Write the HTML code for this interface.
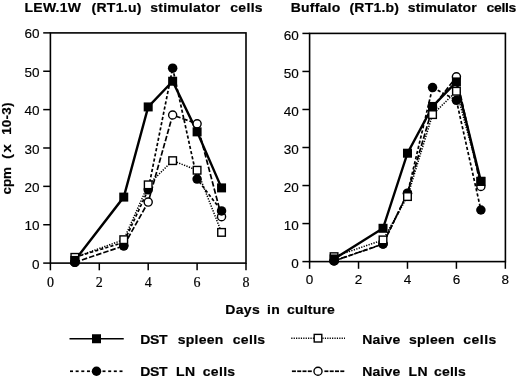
<!DOCTYPE html>
<html><head><meta charset="utf-8"><title>Chart</title>
<style>
html,body{margin:0;padding:0;background:#fff;}
body{width:520px;height:378px;overflow:hidden;}
svg{display:block;will-change:transform;}
text{fill:#000;}
.b{font-family:"Liberation Sans",sans-serif;font-weight:bold;font-size:14px;stroke:#000;stroke-width:0.2px;}
.yl{font-family:"Liberation Sans",sans-serif;font-size:13.5px;stroke:#000;stroke-width:0.15px;}
.xs{font-family:"Liberation Serif",serif;font-size:14px;stroke:#000;stroke-width:0.2px;}
</style></head>
<body>
<svg width="520" height="378" viewBox="0 0 520 378">
<rect width="520" height="378" fill="#fff"/>
<text transform="translate(24.50,11.90) scale(1.0,0.965)" class="b" style="letter-spacing:0.250px">LEW.1W</text>
<text transform="translate(91.50,11.90) scale(1.0,0.965)" class="b" style="letter-spacing:0.292px">(RT1.u)</text>
<text transform="translate(150.25,11.90) scale(1.0,0.965)" class="b" style="letter-spacing:0.250px">stimulator</text>
<text transform="translate(230.25,11.90) scale(1.0,0.965)" class="b" style="letter-spacing:0.312px">cells</text>
<text transform="translate(290.75,11.80) scale(1.0,0.965)" class="b" style="letter-spacing:0.208px">Buffalo</text>
<text transform="translate(349.50,11.80) scale(1.0,0.965)" class="b" style="letter-spacing:0.208px">(RT1.b)</text>
<text transform="translate(407.75,11.80) scale(1.0,0.965)" class="b" style="letter-spacing:0.139px">stimulator</text>
<text transform="translate(486.50,11.80) scale(1.0,0.965)" class="b" style="letter-spacing:-0.312px">cells</text>
<text transform="translate(225.25,314.25) scale(1.0,0.965)" class="b" style="letter-spacing:0.333px">Days</text>
<text transform="translate(267.00,314.25) scale(1.0,0.965)" class="b" style="letter-spacing:0.250px">in</text>
<text transform="translate(287.00,314.25) scale(1.0,0.965)" class="b" style="letter-spacing:0.208px">culture</text>
<text transform="translate(140.25,344.25) scale(1.0,0.965)" class="b" style="letter-spacing:-0.375px">DST</text>
<text transform="translate(177.75,344.25) scale(1.0,0.965)" class="b" style="letter-spacing:0.250px">spleen</text>
<text transform="translate(232.75,344.25) scale(1.0,0.965)" class="b" style="letter-spacing:0.312px">cells</text>
<text transform="translate(140.25,376.25) scale(1.0,0.965)" class="b" style="letter-spacing:-0.375px">DST</text>
<text transform="translate(176.00,376.25) scale(1.0,0.965)" class="b" style="letter-spacing:0.400px">LN</text>
<text transform="translate(202.75,376.25) scale(1.0,0.965)" class="b" style="letter-spacing:0.312px">cells</text>
<text transform="translate(362.25,344.00) scale(1.0,0.965)" class="b" style="letter-spacing:0.188px">Naive</text>
<text transform="translate(409.00,344.00) scale(1.0,0.965)" class="b" style="letter-spacing:0.250px">spleen</text>
<text transform="translate(463.30,344.00) scale(1.0,0.965)" class="b" style="letter-spacing:0.463px">cells</text>
<text transform="translate(362.25,376.10) scale(1.0,0.965)" class="b" style="letter-spacing:0.188px">Naive</text>
<text transform="translate(408.50,376.10) scale(1.0,0.965)" class="b" style="letter-spacing:0.400px">LN</text>
<text transform="translate(434.00,376.10) scale(1.0,0.965)" class="b" style="letter-spacing:0.188px">cells</text>
<text transform="translate(11.30,194.56) rotate(-90) scale(0.955,0.9)" class="b" style="letter-spacing:0.008px">cpm</text>
<text transform="translate(11.30,158.96) rotate(-90) scale(1.06,0.9)" class="b" style="letter-spacing:1.547px">(x</text>
<text transform="translate(11.30,134.86) rotate(-90) scale(0.955,0.9)" class="b" style="letter-spacing:0.260px">10-3)</text>
<rect x="50.4" y="32.9" width="195.60" height="230.20" fill="none" stroke="#000" stroke-width="1.6"/>
<line x1="43.20" y1="263.10" x2="50.4" y2="263.10" stroke="#000" stroke-width="1.5"/>
<text x="39.60" y="268.70" text-anchor="end" class="yl">0</text>
<line x1="43.20" y1="224.73" x2="50.4" y2="224.73" stroke="#000" stroke-width="1.5"/>
<text x="39.60" y="230.33" text-anchor="end" class="yl">10</text>
<line x1="43.20" y1="186.36" x2="50.4" y2="186.36" stroke="#000" stroke-width="1.5"/>
<text x="39.60" y="191.96" text-anchor="end" class="yl">20</text>
<line x1="43.20" y1="147.99" x2="50.4" y2="147.99" stroke="#000" stroke-width="1.5"/>
<text x="39.60" y="153.59" text-anchor="end" class="yl">30</text>
<line x1="43.20" y1="109.62" x2="50.4" y2="109.62" stroke="#000" stroke-width="1.5"/>
<text x="39.60" y="115.22" text-anchor="end" class="yl">40</text>
<line x1="43.20" y1="71.25" x2="50.4" y2="71.25" stroke="#000" stroke-width="1.5"/>
<text x="39.60" y="76.85" text-anchor="end" class="yl">50</text>
<line x1="43.20" y1="32.88" x2="50.4" y2="32.88" stroke="#000" stroke-width="1.5"/>
<text x="39.60" y="38.48" text-anchor="end" class="yl">60</text>
<line x1="50.40" y1="263.1" x2="50.40" y2="270.30" stroke="#000" stroke-width="1.5"/>
<text x="50.40" y="287.00" text-anchor="middle" class="xs">0</text>
<line x1="99.30" y1="263.1" x2="99.30" y2="270.30" stroke="#000" stroke-width="1.5"/>
<text x="99.30" y="287.00" text-anchor="middle" class="xs">2</text>
<line x1="148.20" y1="263.1" x2="148.20" y2="270.30" stroke="#000" stroke-width="1.5"/>
<text x="148.20" y="287.00" text-anchor="middle" class="xs">4</text>
<line x1="197.10" y1="263.1" x2="197.10" y2="270.30" stroke="#000" stroke-width="1.5"/>
<text x="197.10" y="287.00" text-anchor="middle" class="xs">6</text>
<line x1="246.00" y1="263.1" x2="246.00" y2="270.30" stroke="#000" stroke-width="1.5"/>
<text x="246.00" y="287.00" text-anchor="middle" class="xs">8</text>
<polyline points="74.85,262.33 123.75,245.83 148.20,202.09 172.65,114.99 197.10,123.82 221.55,216.67" fill="none" stroke="#000" stroke-width="1.7" stroke-dasharray="5.5 2" stroke-linejoin="miter"/>
<polyline points="74.85,257.15 123.75,242.38 148.20,189.81 172.65,68.18 197.10,179.07 221.55,210.92" fill="none" stroke="#000" stroke-width="1.7" stroke-dasharray="3.2 2.1" stroke-linejoin="miter"/>
<polyline points="74.85,257.34 123.75,239.69 148.20,184.83 172.65,160.65 197.10,170.24 221.55,232.40" fill="none" stroke="#000" stroke-width="1.5" stroke-dasharray="1.3 1.3" stroke-linejoin="miter"/>
<polyline points="74.85,260.41 123.75,197.10 148.20,106.93 172.65,81.23 197.10,131.87 221.55,187.89" fill="none" stroke="#000" stroke-width="2.4" stroke-linejoin="miter"/>
<circle cx="74.85" cy="262.33" r="4.05" fill="#fff" stroke="#000" stroke-width="1.4"/>
<circle cx="123.75" cy="245.83" r="4.05" fill="#fff" stroke="#000" stroke-width="1.4"/>
<circle cx="148.20" cy="202.09" r="4.05" fill="#fff" stroke="#000" stroke-width="1.4"/>
<circle cx="172.65" cy="114.99" r="4.05" fill="#fff" stroke="#000" stroke-width="1.4"/>
<circle cx="197.10" cy="123.82" r="4.05" fill="#fff" stroke="#000" stroke-width="1.4"/>
<circle cx="221.55" cy="216.67" r="4.05" fill="#fff" stroke="#000" stroke-width="1.4"/>
<circle cx="74.85" cy="262.33" r="4.75" fill="#000"/>
<circle cx="123.75" cy="245.83" r="4.75" fill="#000"/>
<circle cx="148.20" cy="189.81" r="4.75" fill="#000"/>
<circle cx="172.65" cy="68.18" r="4.75" fill="#000"/>
<circle cx="197.10" cy="179.07" r="4.75" fill="#000"/>
<circle cx="221.55" cy="210.92" r="4.75" fill="#000"/>
<rect x="71.05" y="253.54" width="7.6" height="7.6" fill="#fff" stroke="#000" stroke-width="1.4"/>
<rect x="119.95" y="235.89" width="7.6" height="7.6" fill="#fff" stroke="#000" stroke-width="1.4"/>
<rect x="144.40" y="181.03" width="7.6" height="7.6" fill="#fff" stroke="#000" stroke-width="1.4"/>
<rect x="168.85" y="156.85" width="7.6" height="7.6" fill="#fff" stroke="#000" stroke-width="1.4"/>
<rect x="193.30" y="166.44" width="7.6" height="7.6" fill="#fff" stroke="#000" stroke-width="1.4"/>
<rect x="217.75" y="228.60" width="7.6" height="7.6" fill="#fff" stroke="#000" stroke-width="1.4"/>
<rect x="70.35" y="255.91" width="9.0" height="9.0" fill="#000"/>
<rect x="119.25" y="192.60" width="9.0" height="9.0" fill="#000"/>
<rect x="143.70" y="102.43" width="9.0" height="9.0" fill="#000"/>
<rect x="168.15" y="76.73" width="9.0" height="9.0" fill="#000"/>
<rect x="192.60" y="127.37" width="9.0" height="9.0" fill="#000"/>
<rect x="217.05" y="183.39" width="9.0" height="9.0" fill="#000"/>
<rect x="309.6" y="33.4" width="195.80" height="228.20" fill="none" stroke="#000" stroke-width="1.6"/>
<line x1="302.40" y1="261.60" x2="309.6" y2="261.60" stroke="#000" stroke-width="1.5"/>
<text x="298.80" y="267.70" text-anchor="end" class="yl">0</text>
<line x1="302.40" y1="223.57" x2="309.6" y2="223.57" stroke="#000" stroke-width="1.5"/>
<text x="298.80" y="229.67" text-anchor="end" class="yl">10</text>
<line x1="302.40" y1="185.54" x2="309.6" y2="185.54" stroke="#000" stroke-width="1.5"/>
<text x="298.80" y="191.64" text-anchor="end" class="yl">20</text>
<line x1="302.40" y1="147.51" x2="309.6" y2="147.51" stroke="#000" stroke-width="1.5"/>
<text x="298.80" y="153.61" text-anchor="end" class="yl">30</text>
<line x1="302.40" y1="109.48" x2="309.6" y2="109.48" stroke="#000" stroke-width="1.5"/>
<text x="298.80" y="115.58" text-anchor="end" class="yl">40</text>
<line x1="302.40" y1="71.45" x2="309.6" y2="71.45" stroke="#000" stroke-width="1.5"/>
<text x="298.80" y="77.55" text-anchor="end" class="yl">50</text>
<line x1="302.40" y1="33.42" x2="309.6" y2="33.42" stroke="#000" stroke-width="1.5"/>
<text x="298.80" y="39.52" text-anchor="end" class="yl">60</text>
<line x1="309.60" y1="261.6" x2="309.60" y2="268.80" stroke="#000" stroke-width="1.5"/>
<text x="309.60" y="284.40" text-anchor="middle" class="yl">0</text>
<line x1="358.54" y1="261.6" x2="358.54" y2="268.80" stroke="#000" stroke-width="1.5"/>
<text x="358.54" y="284.40" text-anchor="middle" class="yl">2</text>
<line x1="407.48" y1="261.6" x2="407.48" y2="268.80" stroke="#000" stroke-width="1.5"/>
<text x="407.48" y="284.40" text-anchor="middle" class="yl">4</text>
<line x1="456.42" y1="261.6" x2="456.42" y2="268.80" stroke="#000" stroke-width="1.5"/>
<text x="456.42" y="284.40" text-anchor="middle" class="yl">6</text>
<line x1="505.36" y1="261.6" x2="505.36" y2="268.80" stroke="#000" stroke-width="1.5"/>
<text x="505.36" y="284.40" text-anchor="middle" class="yl">8</text>
<polyline points="334.07,260.84 383.01,244.11 407.48,193.15 432.56,107.58 456.42,76.77 480.89,186.49" fill="none" stroke="#000" stroke-width="1.7" stroke-dasharray="5.5 2" stroke-linejoin="miter"/>
<polyline points="334.07,260.99 383.01,243.92 407.48,193.53 432.56,87.54 456.42,100.35 480.89,209.99" fill="none" stroke="#000" stroke-width="1.7" stroke-dasharray="3.2 2.1" stroke-linejoin="miter"/>
<polyline points="334.07,256.66 383.01,239.92 407.48,196.57 432.56,114.61 456.42,91.23 480.89,181.36" fill="none" stroke="#000" stroke-width="1.5" stroke-dasharray="1.3 1.3" stroke-linejoin="miter"/>
<polyline points="334.07,258.94 383.01,228.29 407.48,153.21 432.56,106.44 456.42,81.91 480.89,181.36" fill="none" stroke="#000" stroke-width="2.4" stroke-linejoin="miter"/>
<circle cx="334.07" cy="260.84" r="4.05" fill="#fff" stroke="#000" stroke-width="1.4"/>
<circle cx="383.01" cy="244.11" r="4.05" fill="#fff" stroke="#000" stroke-width="1.4"/>
<circle cx="407.48" cy="193.15" r="4.05" fill="#fff" stroke="#000" stroke-width="1.4"/>
<circle cx="432.56" cy="107.58" r="4.05" fill="#fff" stroke="#000" stroke-width="1.4"/>
<circle cx="456.42" cy="76.77" r="4.05" fill="#fff" stroke="#000" stroke-width="1.4"/>
<circle cx="480.89" cy="186.49" r="4.05" fill="#fff" stroke="#000" stroke-width="1.4"/>
<circle cx="334.07" cy="260.99" r="4.75" fill="#000"/>
<circle cx="383.01" cy="243.92" r="4.75" fill="#000"/>
<circle cx="407.48" cy="193.53" r="4.75" fill="#000"/>
<circle cx="432.56" cy="87.54" r="4.75" fill="#000"/>
<circle cx="456.42" cy="100.35" r="4.75" fill="#000"/>
<circle cx="480.89" cy="209.99" r="4.75" fill="#000"/>
<rect x="330.27" y="252.86" width="7.6" height="7.6" fill="#fff" stroke="#000" stroke-width="1.4"/>
<rect x="379.21" y="236.12" width="7.6" height="7.6" fill="#fff" stroke="#000" stroke-width="1.4"/>
<rect x="403.68" y="192.77" width="7.6" height="7.6" fill="#fff" stroke="#000" stroke-width="1.4"/>
<rect x="428.76" y="110.81" width="7.6" height="7.6" fill="#fff" stroke="#000" stroke-width="1.4"/>
<rect x="452.62" y="87.43" width="7.6" height="7.6" fill="#fff" stroke="#000" stroke-width="1.4"/>
<rect x="477.09" y="177.56" width="7.6" height="7.6" fill="#fff" stroke="#000" stroke-width="1.4"/>
<rect x="329.57" y="254.44" width="9.0" height="9.0" fill="#000"/>
<rect x="378.51" y="223.79" width="9.0" height="9.0" fill="#000"/>
<rect x="402.98" y="148.71" width="9.0" height="9.0" fill="#000"/>
<rect x="428.06" y="101.94" width="9.0" height="9.0" fill="#000"/>
<rect x="451.92" y="77.41" width="9.0" height="9.0" fill="#000"/>
<rect x="476.39" y="176.86" width="9.0" height="9.0" fill="#000"/>
<line x1="69.5" y1="338.75" x2="123.75" y2="338.75" stroke="#000" stroke-width="1.6"/>
<rect x="92.00" y="334.25" width="9.0" height="9.0" fill="#000"/>
<line x1="70.0" y1="371.25" x2="73.0" y2="371.25" stroke="#000" stroke-width="1.7"/>
<line x1="75.65" y1="371.25" x2="78.65" y2="371.25" stroke="#000" stroke-width="1.7"/>
<line x1="81.3" y1="371.25" x2="84.3" y2="371.25" stroke="#000" stroke-width="1.7"/>
<line x1="86.95" y1="371.25" x2="89.95" y2="371.25" stroke="#000" stroke-width="1.7"/>
<line x1="102.5" y1="371.25" x2="105.5" y2="371.25" stroke="#000" stroke-width="1.7"/>
<line x1="108.2" y1="371.25" x2="111.2" y2="371.25" stroke="#000" stroke-width="1.7"/>
<line x1="113.8" y1="371.25" x2="116.8" y2="371.25" stroke="#000" stroke-width="1.7"/>
<line x1="119.5" y1="371.25" x2="122.5" y2="371.25" stroke="#000" stroke-width="1.7"/>
<circle cx="96.50" cy="371.25" r="4.75" fill="#000"/>
<line x1="291.25" y1="338.2" x2="345" y2="338.2" stroke="#000" stroke-width="1.5" stroke-dasharray="1.2 1.2"/>
<rect x="314.20" y="334.40" width="7.6" height="7.6" fill="#fff" stroke="#000" stroke-width="1.4"/>
<line x1="291.9" y1="371.25" x2="295.9" y2="371.25" stroke="#000" stroke-width="1.7"/>
<line x1="297.2" y1="371.25" x2="301.2" y2="371.25" stroke="#000" stroke-width="1.7"/>
<line x1="302.5" y1="371.25" x2="306.5" y2="371.25" stroke="#000" stroke-width="1.7"/>
<line x1="307.8" y1="371.25" x2="311.8" y2="371.25" stroke="#000" stroke-width="1.7"/>
<line x1="324.4" y1="371.25" x2="328.4" y2="371.25" stroke="#000" stroke-width="1.7"/>
<line x1="329.7" y1="371.25" x2="333.7" y2="371.25" stroke="#000" stroke-width="1.7"/>
<line x1="335.0" y1="371.25" x2="339.0" y2="371.25" stroke="#000" stroke-width="1.7"/>
<line x1="340.3" y1="371.25" x2="344.3" y2="371.25" stroke="#000" stroke-width="1.7"/>
<circle cx="318.00" cy="371.25" r="4.05" fill="#fff" stroke="#000" stroke-width="1.4"/>
</svg>
</body></html>
